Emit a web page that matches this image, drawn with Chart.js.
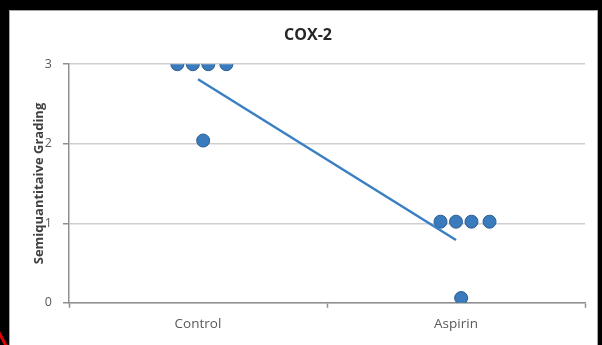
<!DOCTYPE html>
<html>
<head>
<meta charset="utf-8">
<script src="https://cdn.jsdelivr.net/npm/chart.js@4"></script>
<style>
  html, body { margin: 0; padding: 0; background: #000; }
  body { width: 602px; height: 345px; position: relative; overflow: hidden; }
  #panel {
    position: absolute; left: 9px; top: 10px; width: 589px; height: 335px;
    background: #fff; box-sizing: border-box;
    border-top: 1px solid #a6a6a6; border-left: 1px solid #a6a6a6; border-right: 1px solid #a6a6a6;
  }
  #panel canvas { display: block; }
  #mark {
    position: absolute; left: 1px; top: 330px; width: 3px; height: 18px;
    background: #e00000; transform: rotate(-28deg);
  }
</style>
</head>
<body>
<div id="panel"><canvas id="coxChart" width="587" height="334"></canvas></div>
<div id="mark"></div>
<script>
const categories = ['Control', 'Aspirin'];
const yTicks = [0, 1, 2, 3];

// jittered positions around each group (1 = Control, 2 = Aspirin)
const controlX = [0.92, 0.98, 1.04, 1.11, 1.02];
const controlY = [3, 3, 3, 3, 2.04];
const aspirinX = [1.94, 2.0, 2.06, 2.13, 2.02];
const aspirinY = [1.02, 1.02, 1.02, 1.02, 0.06];

const trendX = [1, 2];
const trendY = [2.81, 0.79];

const toPoints = (xs, ys) => xs.map((x, i) => ({ x: x, y: ys[i] }));

const dotFill = '#3a7bbd';
const dotEdge = '#2a5d8f';
const axisGrey = '#8f8f8f';
const font = '"Open Sans", "DejaVu Sans", sans-serif';

const ctx = document.getElementById('coxChart').getContext('2d');
const coxChart = new Chart(ctx, {
  type: 'scatter',
  data: {
    datasets: [
      {
        label: 'Trend',
        data: toPoints(trendX, trendY),
        showLine: true,
        borderColor: '#3a7fc4',
        borderWidth: 2.5,
        pointRadius: 0,
        fill: false
      },
      {
        label: 'Control',
        data: toPoints(controlX, controlY),
        backgroundColor: dotFill,
        borderColor: dotEdge,
        borderWidth: 1,
        pointRadius: 6.5
      },
      {
        label: 'Aspirin',
        data: toPoints(aspirinX, aspirinY),
        backgroundColor: dotFill,
        borderColor: dotEdge,
        borderWidth: 1,
        pointRadius: 6.5
      }
    ]
  },
  options: {
    responsive: false,
    animation: false,
    layout: { padding: { left: 21, right: 12, top: 0, bottom: 5 } },
    plugins: {
      legend: { display: false },
      tooltip: { enabled: false },
      title: {
        display: true,
        text: 'COX-2',
        color: '#262626',
        font: { family: font, size: 16, weight: 'bold', lineHeight: 1.2 },
        padding: { top: 15, bottom: 19 }
      }
    },
    scales: {
      x: {
        type: 'linear',
        min: 0.5,
        max: 2.5,
        afterBuildTicks: scale => {
          scale.ticks = [0.5, 1, 1.5, 2, 2.5].map(v => ({ value: v }));
        },
        grid: {
          drawOnChartArea: false,
          tickLength: 5,
          tickWidth: 1.5,
          tickColor: c => (c.tick && Number.isInteger(c.tick.value)) ? 'rgba(0,0,0,0)' : axisGrey
        },
        border: { display: true, color: axisGrey, width: 1.5 },
        ticks: {
          autoSkip: false,
          maxRotation: 0,
          padding: 8,
          color: '#595959',
          font: { family: font, size: 13.5 },
          callback: v => Number.isInteger(v) ? categories[v - 1] : ''
        }
      },
      y: {
        min: 0,
        max: 3,
        afterBuildTicks: scale => {
          scale.ticks = yTicks.map(v => ({ value: v }));
        },
        afterFit: scale => { scale.width = 38; },
        grid: {
          color: '#cfcfcf',
          lineWidth: 1.5,
          tickLength: 6,
          tickColor: axisGrey
        },
        border: { display: true, color: axisGrey, width: 1.5 },
        ticks: {
          padding: 11,
          color: '#595959',
          font: { family: font, size: 12.5 }
        },
        title: {
          display: true,
          text: 'Semiquantitaive Grading',
          color: '#404040',
          font: { family: font, size: 13, weight: 'bold', lineHeight: 1.2 },
          padding: { top: 0, bottom: 0 }
        }
      }
    }
  }
});
</script>
</body>
</html>
